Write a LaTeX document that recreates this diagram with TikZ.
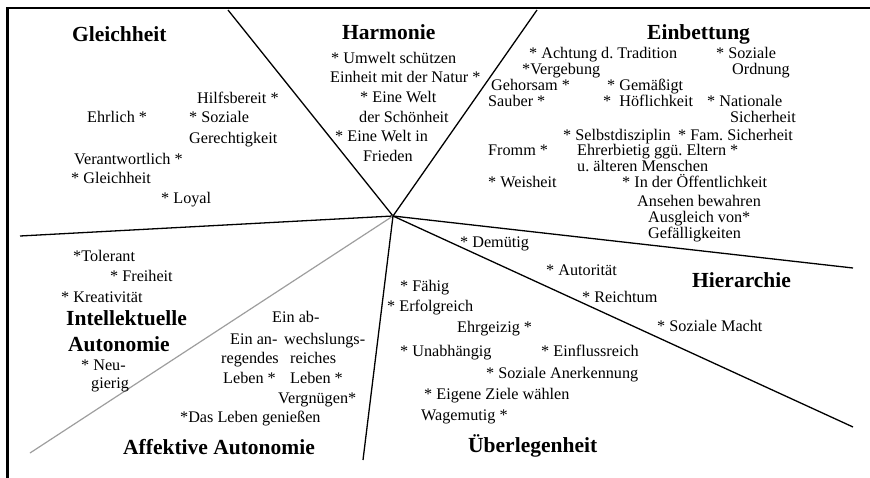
\documentclass[tikz,border=0pt]{standalone}
\usepackage{fontspec}
\setmainfont{Liberation Serif}
\frenchspacing
\begin{document}
\begin{tikzpicture}[x=1pt,y=-1pt,
  lbl/.style={anchor=base west,inner sep=0pt,font=\fontsize{16.2}{19}\selectfont},
  hd/.style={anchor=base west,inner sep=0pt,font=\fontsize{21.5}{24}\selectfont\bfseries},
  sep/.style={line width=1.3pt,black},
  gsep/.style={line width=1.2pt,color=black!38},
  frame/.style={line width=2.4pt,black}]
\useasboundingbox (0,0) rectangle (870,478);
% frame
\coordinate (ftl) at (7.5,8);
\coordinate (ftr) at (870,8);
\coordinate (fbl) at (7.5,478);
\draw[frame] (ftr) -- (ftl) -- (fbl);
% sector lines
\coordinate (c) at (393,216);
\coordinate (e1) at (228,10);
\coordinate (e2) at (537,10);
\coordinate (e3) at (20,236);
\coordinate (e4) at (30,453);
\coordinate (e5) at (363,460);
\coordinate (e6) at (853,427);
\coordinate (e7) at (853,268);
\draw[sep] (c) -- (e1);
\draw[sep] (c) -- (e2);
\draw[sep] (c) -- (e3);
\draw[gsep] (c) -- (e4);
\draw[sep] (c) -- (e5);
\draw[sep] (c) -- (e6);
\draw[sep] (c) -- (e7);
% Gleichheit
\node[hd] (g0) at (72,42) {Gleichheit};
\node[lbl] (g1) at (197,104) {Hilfsbereit *};
\node[lbl] (g2) at (87,123) {Ehrlich *};
\node[lbl] (g3) at (189,123) {* Soziale};
\node[lbl] (g4) at (189,144) {Gerechtigkeit};
\node[lbl] (g5) at (74,165) {Verantwortlich *};
\node[lbl] (g6) at (71,184) {* Gleichheit};
\node[lbl] (g7) at (161,204) {* Loyal};
% Harmonie
\node[hd] (h0) at (342,40) {Harmonie};
\node[lbl] (h1) at (331,64) {* Umwelt schützen};
\node[lbl] (h2) at (330,83) {Einheit mit der Natur *};
\node[lbl] (h3) at (360,103) {* Eine Welt};
\node[lbl] (h4) at (359,123) {der Schönheit};
\node[lbl] (h5) at (335,142) {* Eine Welt in};
\node[lbl] (h6) at (363,162) {Frieden};
% Einbettung
\node[hd] (b0) at (647,40) {Einbettung};
\node[lbl] (b1) at (529,59) {* Achtung d. Tradition};
\node[lbl] (b2) at (716,59) {* Soziale};
\node[lbl] (b3) at (522,75) {*Vergebung};
\node[lbl] (b4) at (732,75) {Ordnung};
\node[lbl] (b5) at (491,91) {Gehorsam *};
\node[lbl] (b6) at (607,91) {* Gemäßigt};
\node[lbl] (b7) at (488,107) {Sauber *};
\node[lbl] (b8) at (603,107) {*\ \ Höflichkeit};
\node[lbl] (b9) at (707,107) {* Nationale};
\node[lbl] (b10) at (730,123) {Sicherheit};
\node[lbl] (b11) at (563,141) {* Selbstdisziplin};
\node[lbl] (b12) at (678,141) {* Fam. Sicherheit};
\node[lbl] (b13) at (488,156) {Fromm *};
\node[lbl] (b14) at (577,156) {Ehrerbietig ggü. Eltern *};
\node[lbl] (b15) at (577,172) {u. älteren Menschen};
\node[lbl] (b16) at (488,188) {* Weisheit};
\node[lbl] (b17) at (622,188) {* In der Öffentlichkeit};
\node[lbl] (b18) at (637,207) {Ansehen bewahren};
\node[lbl] (b19) at (648,223) {Ausgleich von*};
\node[lbl] (b20) at (648,239) {Gefälligkeiten};
% Hierarchie
\node[hd] (r0) at (692,288) {Hierarchie};
\node[lbl] (r1) at (460,248) {* Demütig};
\node[lbl] (r2) at (546,276) {* Autorität};
\node[lbl] (r3) at (582,303) {* Reichtum};
\node[lbl] (r4) at (657,331) {* Soziale Macht};
% Ueberlegenheit
\node[hd] (u0) at (468,452) {Überlegenheit};
\node[lbl] (u1) at (400,291) {* Fähig};
\node[lbl] (u2) at (387,312) {* Erfolgreich};
\node[lbl] (u3) at (457,333) {Ehrgeizig *};
\node[lbl] (u4) at (400,356) {* Unabhängig};
\node[lbl] (u5) at (541,356) {* Einflussreich};
\node[lbl] (u6) at (486,378) {* Soziale Anerkennung};
\node[lbl] (u7) at (424,399) {* Eigene Ziele wählen};
\node[lbl] (u8) at (421,420) {Wagemutig *};
% Intellektuelle Autonomie
\node[lbl] (i1) at (73,262) {*Tolerant};
\node[lbl] (i2) at (110,282) {* Freiheit};
\node[lbl] (i3) at (61,302) {* Kreativität};
\node[hd] (i0) at (66,325) {Intellektuelle};
\node[hd] (i00) at (68,351) {Autonomie};
\node[lbl] (i4) at (81,370) {* Neu-};
\node[lbl] (i5) at (91,388) {gierig};
% Affektive Autonomie
\node[lbl] (a1) at (272,323) {Ein ab-};
\node[lbl] (a2) at (230,344) {Ein an-};
\node[lbl] (a3) at (284,344) {wechslungs-};
\node[lbl] (a4) at (221,363) {regendes};
\node[lbl] (a5) at (290,363) {reiches};
\node[lbl] (a6) at (223,383) {Leben *};
\node[lbl] (a7) at (290,383) {Leben *};
\node[lbl] (a8) at (278,403) {Vergnügen*};
\node[lbl] (a9) at (180,422) {*Das Leben genießen};
\node[hd] (a0) at (123,454) {Affektive Autonomie};
\end{tikzpicture}
\end{document}
